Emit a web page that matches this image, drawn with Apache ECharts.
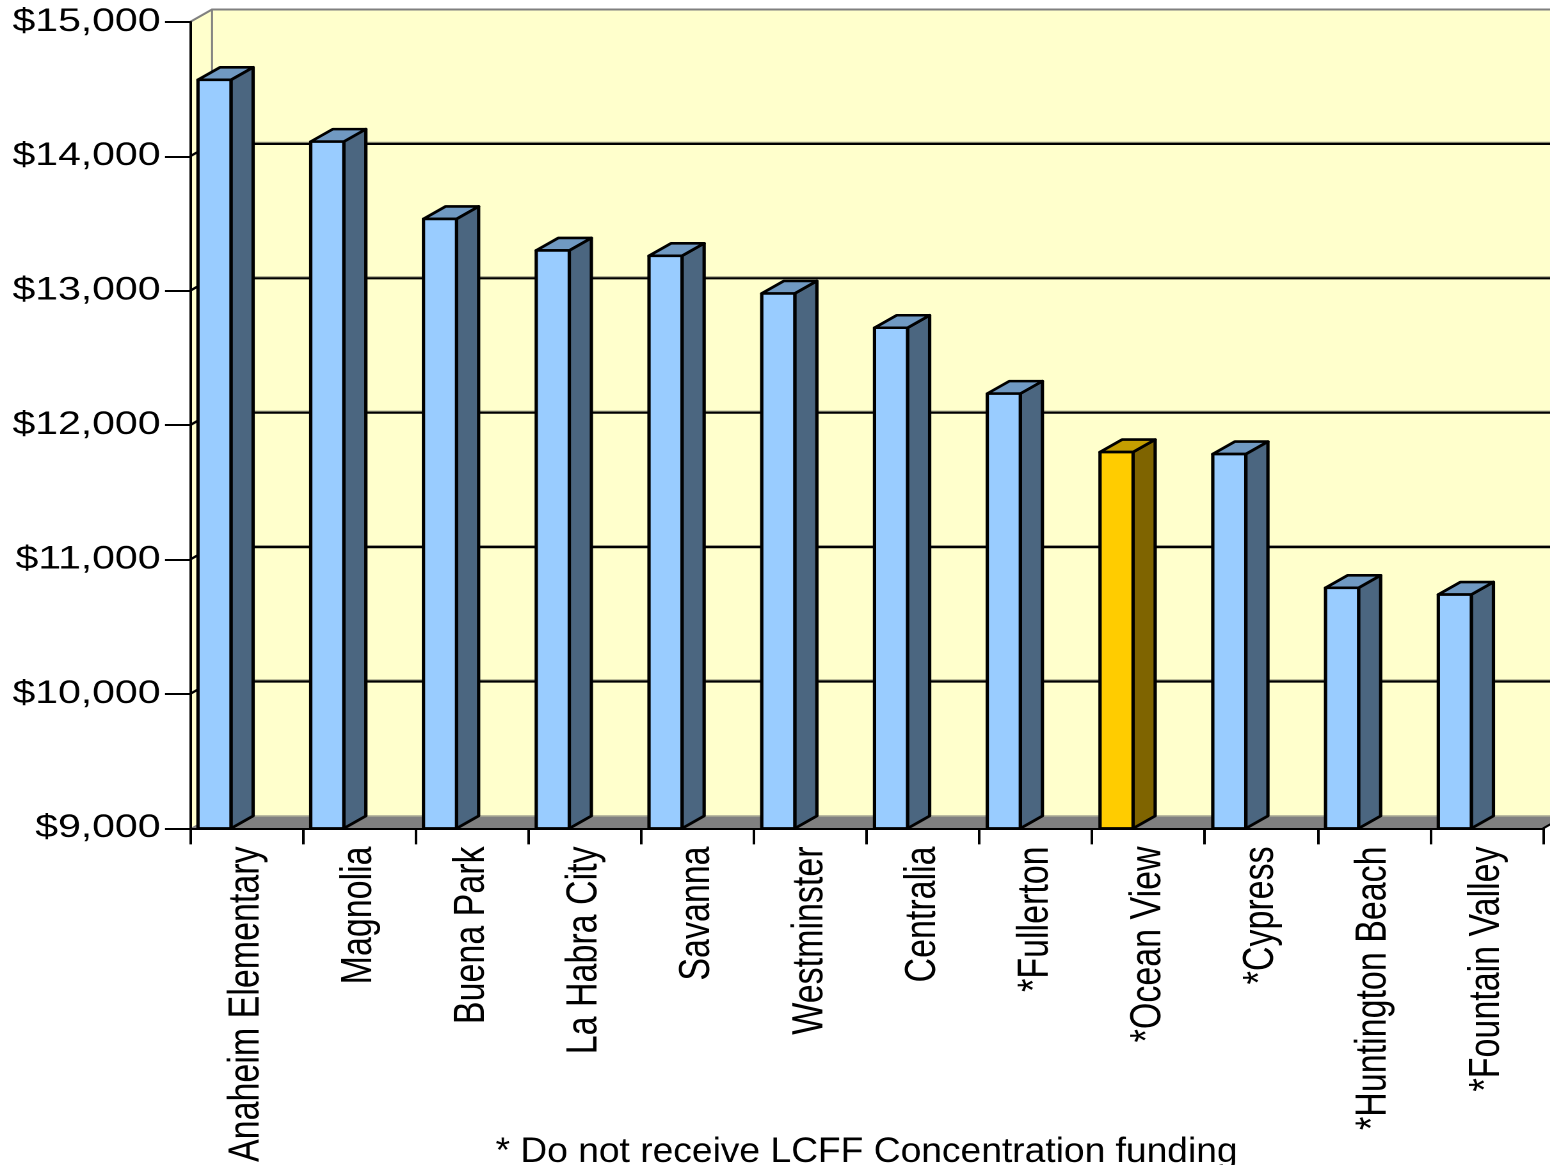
<!DOCTYPE html>
<html>
<head>
<meta charset="utf-8">
<title>Per-pupil funding by district</title>
<script src="https://cdn.jsdelivr.net/npm/echarts@6/dist/echarts.min.js"></script>
<style>
  html, body { margin: 0; padding: 0; background: #fff; overflow: hidden; }
  #wrap { width: 1550px; height: 1165px; overflow: hidden; }
  /* the chart is laid out in a narrower box and widened horizontally */
  #chart { width: 1211px; height: 1165px; transform: scaleX(1.28); transform-origin: 0 0; }
</style>
</head>
<body>
<div id="wrap"><div id="chart"></div></div>
<script>
// District names (asterisk = no LCFF concentration funding)
const districts = [
  'Anaheim Elementary', 'Magnolia', 'Buena Park', 'La Habra City', 'Savanna',
  'Westminster', 'Centralia', '*Fullerton', '*Ocean View', '*Cypress',
  '*Huntington Beach', '*Fountain Valley'
];
// Funding per pupil, dollars
const perPupil = [
  14570, 14110, 13535, 13300, 13260,
  12980, 12725, 12235, 11800, 11785,
  10790, 10740
];
const highlighted = ['*Ocean View'];
const yTicks = [9000, 10000, 11000, 12000, 13000, 14000, 15000];
const footnote = '* Do not receive LCFF Concentration funding';

const yMin = yTicks[0], yMax = yTicks[yTicks.length - 1];
const FONT = "'Liberation Sans', Arial, Helvetica, sans-serif";

// 3-D look: share of a category band used by the bar and its depth
const BAR_OFFSET = 0.071;
const BAR_WIDTH = 0.293;
const DEPTH = 0.196;
const DEPTH_Y = 12.5;

const palettes = {
  normal:    { front: '#99CCFF', side: '#4B6680', top: '#7099C2' },
  highlight: { front: '#FFCC00', side: '#7F6400', top: '#C49E00' }
};

function renderWalls(params, api) {
  const band = api.size([1, 0])[0];
  const dx = band * DEPTH, dy = DEPTH_Y;
  const n = districts.length;
  const bl = api.coord([0, yMin]);
  const left = bl[0] - band / 2, base = bl[1];
  const right = api.coord([n - 1, yMin])[0] + band / 2;
  const top = api.coord([0, yMax])[1];
  const far = right + dx * 3;
  const kids = [];
  // back wall
  kids.push({ type: 'rect', shape: { x: left + dx, y: top - dy, width: far - left, height: base - top },
    style: { fill: '#FFFFCC' } });
  // left side wall
  kids.push({ type: 'polygon', shape: { points: [[left, top], [left + dx, top - dy], [left + dx, base - dy], [left, base]] },
    style: { fill: '#FFFFCC' } });
  // gridlines running over the side wall and along the back wall
  yTicks.slice(1, -1).forEach(t => {
    const y = api.coord([0, t])[1];
    kids.push({ type: 'line', shape: { x1: left + dx, y1: y - dy - 1.6, x2: far, y2: y - dy - 1.6 },
      style: { stroke: '#9A9A80', lineWidth: 1 } });
    kids.push({ type: 'polyline', shape: { points: [[left, y], [left + dx, y - dy], [far, y - dy]] },
      style: { stroke: '#000', lineWidth: 2.2, fill: null } });
  });
  // floor
  kids.push({ type: 'polygon', shape: { points: [[left, base], [right, base], [right + dx, base - dy], [far, base - dy], [far, base - dy], [left + dx, base - dy]] },
    style: { fill: '#808080' } });
  kids.push({ type: 'line', shape: { x1: left + dx, y1: base - dy, x2: far, y2: base - dy },
    style: { stroke: '#B4B49C', lineWidth: 1.5 } });
  kids.push({ type: 'line', shape: { x1: right, y1: base, x2: right + dx, y2: base - dy },
    style: { stroke: '#000', lineWidth: 2 } });
  // wall edges
  kids.push({ type: 'polyline', shape: { points: [[left, top], [left + dx, top - dy], [far, top - dy]] },
    style: { stroke: '#808080', lineWidth: 2, fill: null } });
  kids.push({ type: 'line', shape: { x1: left + dx, y1: top - dy, x2: left + dx, y2: base - dy },
    style: { stroke: '#808080', lineWidth: 1.5 } });
  return { type: 'group', children: kids };
}

function renderBar(params, api) {
  const i = api.value(0), v = api.value(1);
  const band = api.size([1, 0])[0];
  const c = api.coord([i, v]);
  const b = api.coord([i, yMin]);
  const x0 = c[0] - band / 2 + band * BAR_OFFSET;
  const w = band * BAR_WIDTH, dx = band * DEPTH, dy = DEPTH_Y;
  const yt = c[1], yb = b[1];
  const pal = highlighted.includes(districts[i]) ? palettes.highlight : palettes.normal;
  const edge = { stroke: '#000', lineWidth: 2.6, lineJoin: 'round' };
  return {
    type: 'group',
    children: [
      { type: 'polygon', shape: { points: [[x0 + w, yt], [x0 + w + dx, yt - dy], [x0 + w + dx, yb - dy], [x0 + w, yb]] },
        style: Object.assign({ fill: pal.side }, edge) },
      { type: 'polygon', shape: { points: [[x0, yt], [x0 + dx, yt - dy], [x0 + w + dx, yt - dy], [x0 + w, yt]] },
        style: Object.assign({ fill: pal.top }, edge) },
      { type: 'rect', shape: { x: x0, y: yt, width: w, height: yb - yt },
        style: Object.assign({ fill: pal.front }, edge) }
    ]
  };
}

const chart = echarts.init(document.getElementById('chart'), null, { devicePixelRatio: 2, renderer: 'canvas' });

chart.setOption({
  animation: false,
  backgroundColor: '#ffffff',
  grid: { left: 148.4, right: 5.5, top: 22, bottom: 335, containLabel: false },
  xAxis: {
    type: 'category',
    data: districts,
    z: 10,
    axisLine: { show: true, lineStyle: { color: '#000', width: 2 } },
    axisTick: { show: true, length: 16, lineStyle: { color: '#000', width: 2 } },
    axisLabel: { interval: 0, rotate: 90, margin: 18, fontSize: 34, color: '#000', fontFamily: FONT },
    splitLine: { show: false }
  },
  yAxis: {
    type: 'value',
    min: yMin,
    max: yMax,
    interval: 1000,
    z: 10,
    axisLine: { show: true, lineStyle: { color: '#000', width: 2 } },
    axisTick: { show: true, length: 19.5, lineStyle: { color: '#000', width: 2 } },
    axisLabel: {
      margin: 23, fontSize: 32, color: '#000', fontFamily: FONT,
      formatter: v => '$' + v.toLocaleString('en-US')
    },
    splitLine: { show: false }
  },
  series: [
    {
      type: 'custom',
      name: 'walls',
      z: 1,
      clip: false,
      silent: true,
      renderItem: renderWalls,
      data: [[0, yMin]]
    },
    {
      type: 'custom',
      name: 'Funding per pupil',
      z: 3,
      clip: false,
      renderItem: renderBar,
      encode: { x: 0, y: 1 },
      data: perPupil.map((v, i) => [i, v])
    }
  ],
  graphic: [
    {
      type: 'text',
      x: 677,
      y: 1135,
      scaleX: 0.83,
      style: { text: footnote, fontSize: 35, fontFamily: FONT, fill: '#000', align: 'center', verticalAlign: 'top' }
    }
  ]
});
</script>
</body>
</html>
